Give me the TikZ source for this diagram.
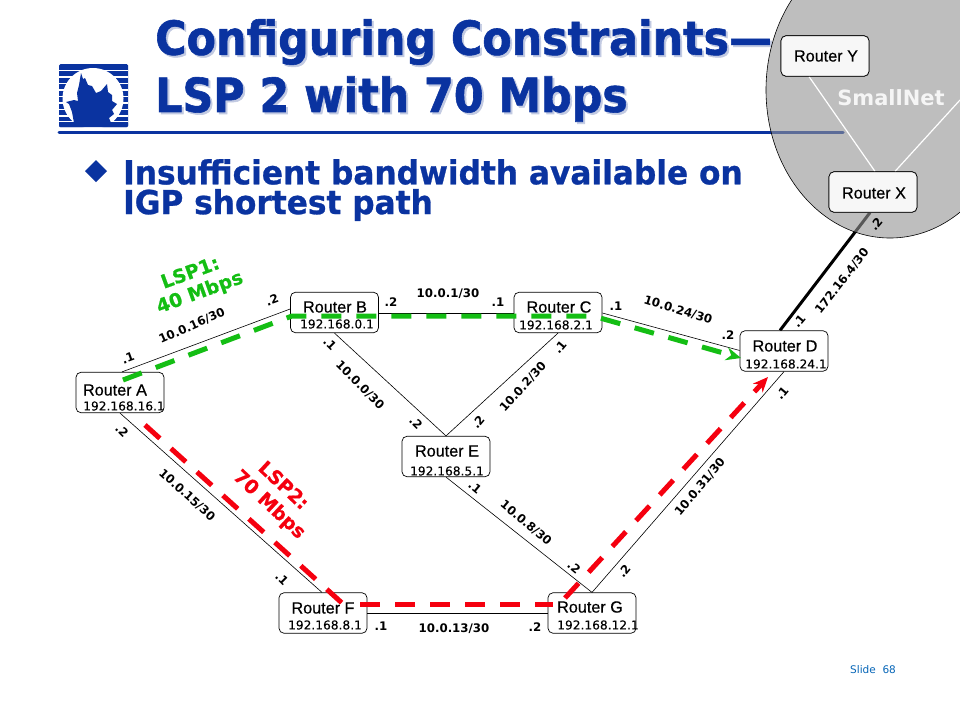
\documentclass[tikz,border=0pt]{standalone}
\usepackage{fontspec}
\usetikzlibrary{arrows.meta}
\setmainfont{Liberation Sans}
\newfontfamily\ttlf[FakeStretch=0.91,FakeBold=1.2]{DejaVu Sans Bold}
\newfontfamily\bulf[FakeStretch=0.946,FakeBold=0.8]{DejaVu Sans Bold}
\newfontfamily\rtf[FakeBold=0.5]{Liberation Sans}
\newfontfamily\ipf[FakeBold=0.2]{DejaVu Sans}
\newfontfamily\lblf{DejaVu Sans Bold}
\newfontfamily\lspf[FakeBold=0.6]{DejaVu Sans Bold}
\newfontfamily\vrd{DejaVu Sans}
\definecolor{navy}{HTML}{0A33A0}
\definecolor{shade}{HTML}{C2CAE2}
\definecolor{lspg}{HTML}{14BE14}
\definecolor{lspr}{HTML}{F5000F}
\definecolor{cloud}{HTML}{939393}
\tikzset{
  router/.style={draw=black,line width=.7pt,fill=white,rounded corners=5pt,minimum width=88pt,minimum height=40.5pt,inner sep=0pt},
  rname/.style={inner sep=0pt,font=\rtf\fontsize{16.2}{16.2}\selectfont},
  ripa/.style={inner sep=0pt,font=\ipf\fontsize{12.2}{12.2}\selectfont},
  lnk/.style={draw=black,line width=.6pt},
  lbl/.style={inner sep=0pt,font=\lblf\fontsize{11.8}{11.8}\selectfont},
  ttl/.style={inner sep=0pt,anchor=west,text=navy,font=\ttlf\fontsize{47}{47}\selectfont},
  ttlsh/.style={inner sep=0pt,anchor=west,text=shade,font=\ttlf\fontsize{47}{47}\selectfont},
  bul/.style={inner sep=0pt,anchor=west,text=navy,font=\bulf\fontsize{33}{33}\selectfont},
  lspgt/.style={inner sep=0pt,text=lspg,font=\lspf\fontsize{19}{19}\selectfont},
  lsprt/.style={inner sep=0pt,text=lspr,font=\lspf\fontsize{19}{19}\selectfont},
  lspline/.style={line width=5pt,dash pattern=on 20pt off 15pt},
}
\begin{document}
\begin{tikzpicture}[x=1pt,y=-1pt]
\useasboundingbox (0,0) rectangle (960,720);
\fill[white] (0,0) rectangle (960,720);
% logo
\fill[navy,rounded corners=1.5pt] (59,64) rectangle (128,127);
\foreach \yy in {69.5,76,82.5,89,95.5,102,108.5,115,120.5} {\fill[white] (59,\yy) rectangle (128,\yy+1.6);}
\fill[white] (93,98.5) circle (30.5);
\fill[navy,rounded corners=1pt] (59,122) rectangle (128,127);
\fill[navy] (81,73) -- (83,79) -- (85,78) -- (88,85) -- (92,86) -- (96,93) -- (101,91) -- (107,84) -- (108,92) -- (112,95) -- (112,101) -- (117,104) -- (112,110) -- (114,114) -- (109,118) -- (111,123) -- (74,123) -- (72,112) -- (69,104) -- (66,102) -- (74,100) -- (78,101) -- (77,93) -- (79,85) -- cycle;
% rule under title
\draw[navy,line width=3pt,line cap=round] (59,132) -- (843,132);
% titles
\node[ttlsh] (t1s) at (157,44) {Configuring Constraints—};
\node[ttlsh] (t2s) at (157,101) {LSP 2 with 70 Mbps};
\node[ttl] (t1) at (155,42) {Configuring Constraints—};
\node[ttl] (t2) at (155,99) {LSP 2 with 70 Mbps};
% bullet
\fill[navy] (85,171) -- (96,160) -- (107,171) -- (96,182) -- cycle;
\node[bul] (b1) at (123,172) {Insufficient bandwidth available on};
\node[bul] (b2) at (123,205) {IGP shortest path};
% D-X link goes under the cloud
\node[router,draw=none,fill=none] (x0) at (873,192) {};
\node[router,draw=none,fill=none] (d0) at (784,351) {};
\draw[black,line width=3pt] ([xshift=-4pt]d0.north) -- ([xshift=-3pt]x0.south);
% SmallNet cloud
\fill[cloud,fill opacity=.6] (890,90) ellipse [x radius=124,y radius=148];
\draw[black,line width=.6pt] (890,90) ellipse [x radius=124,y radius=148];
% routers
\node[router] (y) at (825,56) {};
\node[router] (x) at (873,192) {};
\draw[white,line width=1.2pt] ([xshift=-16pt]y.south) -- ([xshift=2pt]x.north);
\coordinate (xout) at (960,100);
\draw[white,line width=1.2pt] ([xshift=22pt]x.north) -- (xout);
\node[router,fill=white!97!black] at (825,56) {};
\node[router,fill=white!97!black] at (873,192) {};
\node[rname] (yn) at (826,56) {Router Y};
\node[rname] (xn) at (874,193) {Router X};
\node[inner sep=0pt,text=white!92!gray,font=\lblf\fontsize{21}{21}\selectfont] (sn) at (891,98) {SmallNet};
\node[router] (a) at (120,392.5) {};
\node[router] (b) at (334.5,312.5) {};
\node[router] (c) at (558,312.5) {};
\node[router] (d) at (784,351) {};
\node[router] (e) at (446,456.5) {};
\node[router] (f) at (323,613) {};
\node[router] (g) at (592,613) {};
% links
\draw[lnk] ([xshift=2pt]a.north) -- ([yshift=3.5pt]b.west);
\draw[lnk] ([yshift=-.5pt]b.east) -- ([yshift=-.5pt]c.west);
\draw[lnk] (b.south) -- (e.north);
\draw[lnk] (c.south) -- (e.north);
\draw[lnk] ([yshift=-.5pt]c.east) -- ([yshift=.5pt]d.west);
\draw[lnk] (d.south) -- (g.north);
\draw[lnk] (e.south) -- (g.north);
\draw[lnk] (a.south) -- ([xshift=-1pt]f.north);
\draw[lnk] (f.east) -- (g.west);
% router text
\node[rname] (an) at (115,390) {Router A};
\node[ripa] (ai) at (124,406) {192.168.16.1};
\node[rname] (bn) at (335,307) {Router B};
\node[ripa] (bi) at (337,324) {192.168.0.1};
\node[rname] (cn) at (559,307) {Router C};
\node[ripa] (ci) at (556,325) {192.168.2.1};
\node[rname] (dn) at (785,346) {Router D};
\node[ripa] (di) at (786,364) {192.168.24.1};
\node[rname] (en) at (447,451) {Router E};
\node[ripa] (ei) at (447,471) {192.168.5.1};
\node[rname] (fn) at (323,608) {Router F};
\node[ripa] (fi) at (325,625) {192.168.8.1};
\node[rname] (gn) at (590,607) {Router G};
\node[ripa] (gi) at (598,625) {192.168.12.1};
% link labels
\foreach \nm/\px/\py/\rr/\tx in {
 l1/192/326/24/10.0.16\slash 30, l2/448/294/0/10.0.1\slash 30, l3/678/310/-17/10.0.24\slash 30,
 l4/360/385/-45/10.0.0\slash 30, l5/523/387/48/10.0.2\slash 30, l6/187/495/-42/10.0.15\slash 30,
 l7/526/523/-40/10.0.8\slash 30, l8/700/487/50/10.0.31\slash 30, l9/454/629/0/10.0.13\slash 30,
 l10/842/281/52/172.16.4\slash 30,
 d1/128/358/20/.1, d2/272/300/20/.2, d3/391/302/0/.2, d4/498/302/0/.1, d5/616/306/0/.1, d6/728/335/0/.2,
 d7/330/344/-45/.1, d8/416/423/-45/.2, d9/478/422/50/.2, d10/560/347/50/.1, d11/122/431/-45/.2,
 d12/282/579/-45/.1, d13/381/626/0/.1, d14/535/627/0/.2, d15/475/487/-40/.1, d16/574/567/-40/.2,
 d17/624/571/50/.2, d18/782/393/50/.1, d19/799/321/50/.1, d20/876/224/50/.2}
 {\node[lbl,rotate=\rr] (\nm) at (\px,\py) {\tx};}
% LSP labels
\node[lspgt,rotate=20] (g1) at (190,272) {LSP1:};
\node[lspgt,rotate=20] (g2) at (200,293) {40 Mbps};
\node[lsprt,rotate=-43] (r1) at (284,485) {LSP2:};
\node[lsprt,rotate=-43] (r2) at (269,505) {70 Mbps};
% LSP paths
\coordinate (g0) at (123,380);
\coordinate (gb) at (292,316);
\coordinate (gc) at (593,316);
\coordinate (gd) at (741,358);
\draw[lspg,lspline,-{Stealth[length=15pt,width=13pt]}] (g0) -- (gb) -- (gc) -- (gd);
\coordinate (r0) at (145,425);
\coordinate (rf) at (342,603);
\coordinate (rf2) at (360,604);
\coordinate (rg) at (553,604);
\coordinate (rh) at (565,598);
\coordinate (rd) at (768,377);
\draw[lspr,lspline] (r0) -- (rf);
\draw[lspr,lspline] (rf2) -- (rg);
\draw[lspr,lspline,-{Stealth[length=15pt,width=13pt]}] (rh) -- (rd);
% footer
\node[inner sep=0pt,anchor=west,text=navy!75!cyan,font=\vrd\fontsize{10.5}{10.5}\selectfont] (ft) at (850,670) {Slide\ \ 68};
\end{tikzpicture}
\end{document}
